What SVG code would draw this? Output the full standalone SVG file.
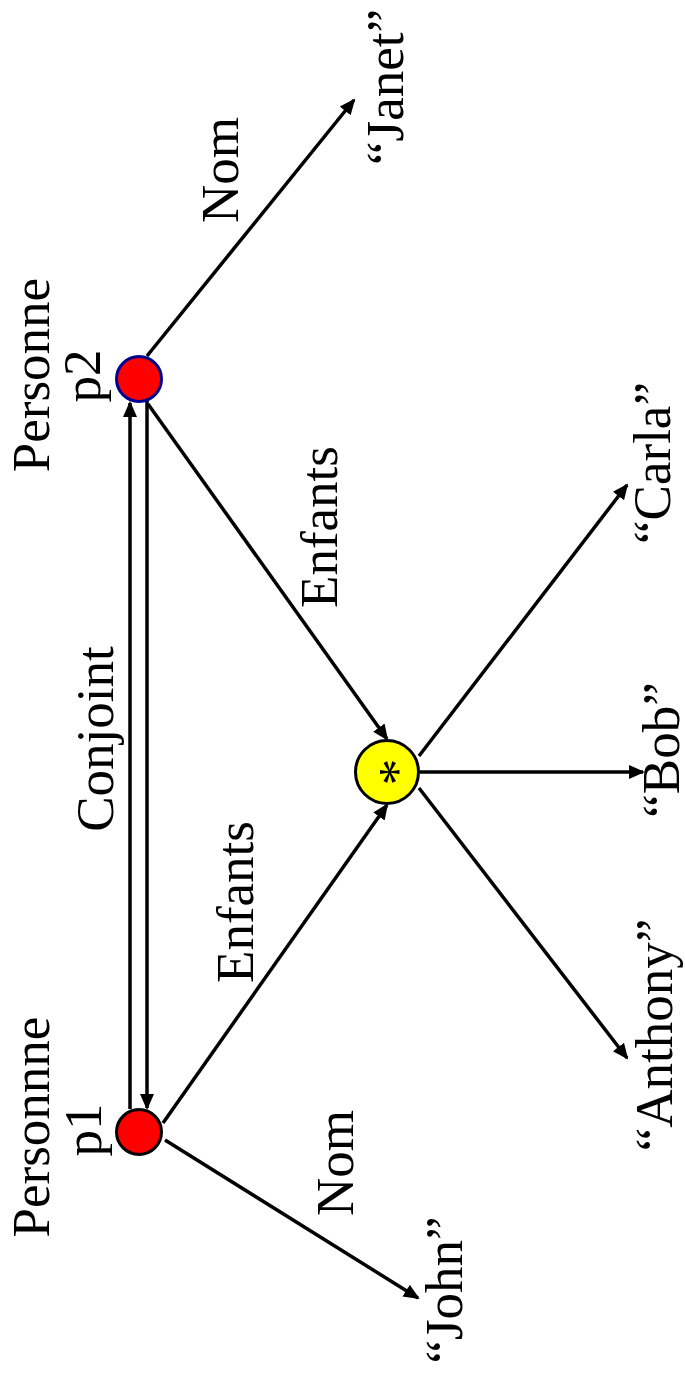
<svg xmlns="http://www.w3.org/2000/svg" width="685" height="1379" viewBox="0 0 685 1379">
<style>
  .lbl { font-family: "Liberation Serif", "Times New Roman", serif; font-size: 53px; fill: #000; text-anchor: middle; }
  .edge { stroke: #000; stroke-width: 3.5; fill: none; marker-end: url(#arrow); }
</style>
<defs>
  <marker id="arrow" markerUnits="userSpaceOnUse" markerWidth="16" markerHeight="16" viewBox="0 0 16 14" refX="14" refY="7" orient="auto">
    <path d="M0,0 L16,7 L0,14 z" fill="#000"/>
  </marker>
</defs>
<rect width="685" height="1379" fill="#fff"/>

<g id="connectors">
  <line class="edge" x1="147" y1="356" x2="354" y2="100"/>
  <line class="edge" x1="148" y1="404" x2="387" y2="739"/>
  <line class="edge" x1="163" y1="1123" x2="387" y2="805"/>
  <line class="edge" x1="165" y1="1140" x2="418" y2="1298"/>
  <line class="edge" x1="130" y1="1109" x2="130" y2="403"/>
  <line class="edge" x1="147" y1="401" x2="147" y2="1108"/>
  <line class="edge" x1="419" y1="756" x2="627" y2="485"/>
  <line class="edge" x1="420" y1="772" x2="643" y2="772"/>
  <line class="edge" x1="419" y1="788" x2="627" y2="1058"/>
  <text class="lbl" transform="translate(113,739) rotate(-90)">Conjoint</text>
  <text class="lbl" transform="translate(238,170) rotate(-90)">Nom</text>
  <text class="lbl" transform="translate(353,1163) rotate(-90)">Nom</text>
  <text class="lbl" transform="translate(337,527) rotate(-90)">Enfants</text>
  <text class="lbl" transform="translate(253,902) rotate(-90)">Enfants</text>
</g>

<g id="p2">
  <circle cx="139" cy="379" r="22.5" fill="#FF0000" stroke="#000090" stroke-width="3"/>
  <text class="lbl" transform="translate(49,375) rotate(-90)">Personne</text>
  <text class="lbl" transform="translate(100,376) rotate(-90)">p2</text>
</g>

<g id="p1">
  <circle cx="139" cy="1132" r="22.5" fill="#FF0000" stroke="#000" stroke-width="3"/>
  <text class="lbl" transform="translate(49,1127) rotate(-90)">Personnne</text>
  <text class="lbl" transform="translate(101,1130) rotate(-90)">p1</text>
</g>

<g id="enfants">
  <circle cx="387" cy="772" r="31.5" fill="#FFFF00" stroke="#000" stroke-width="3"/>
  <text class="lbl" transform="translate(415,772) rotate(-90)">*</text>
</g>

<g id="janet">
  <text class="lbl" transform="translate(403,87) rotate(-90)">“Janet”</text>
</g>
<g id="carla">
  <text class="lbl" transform="translate(670,463) rotate(-90)">“Carla”</text>
</g>
<g id="bob">
  <text class="lbl" transform="translate(679,750) rotate(-90)">“Bob”</text>
</g>
<g id="anthony">
  <text class="lbl" transform="translate(672,1035) rotate(-90)">“Anthony”</text>
</g>
<g id="john">
  <text class="lbl" transform="translate(462,1290) rotate(-90)">“John”</text>
</g>
</svg>
